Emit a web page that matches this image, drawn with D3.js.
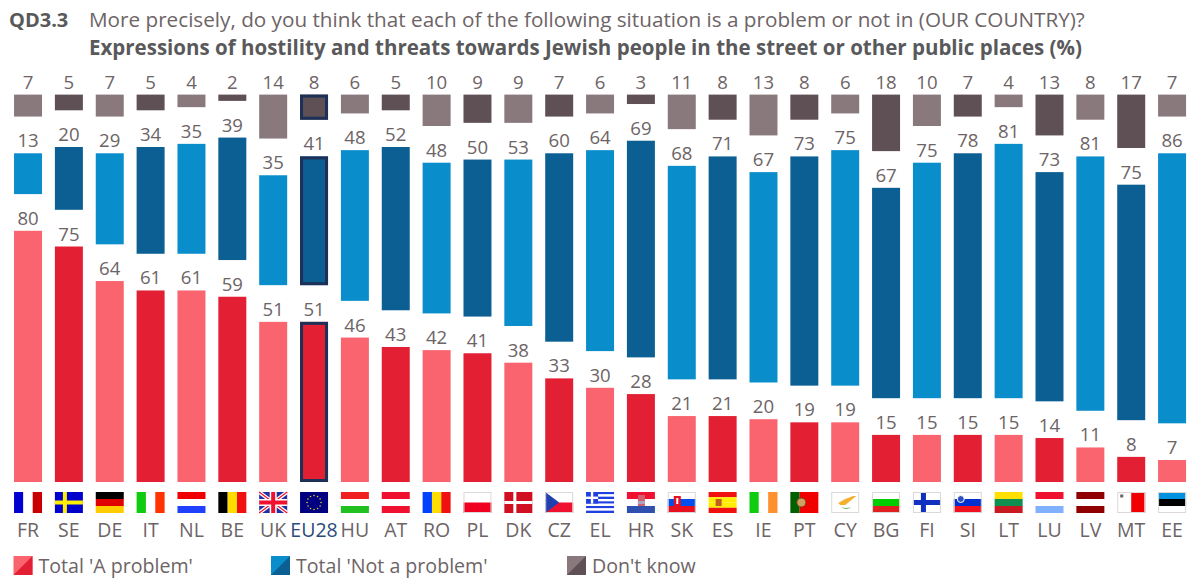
<!DOCTYPE html>
<html lang="en">
<head>
	<meta charset="UTF-8">
	<title>QD3.3</title>
	<style>
		* {padding:0; margin:0;}
		body {background:#fff; overflow:hidden;}
		svg {display:block;}
		text {font-family:"Open Sans", "Noto Sans", sans-serif; fill:#6d6466;}
		.num {font-size:18.6px; text-anchor:middle;}
		.axis text {font-size:19.5px; fill:#6d6466;}
		.axis .domain, .axis line {display:none;}
		.legendText {font-size:19.6px;}
	</style>
</head>
<body>
	<script src="https://d3js.org/d3.v7.min.js"></script>
	<svg id="chart" width="1189" height="579"></svg>

<script>
var countries = ["FR","SE","DE","IT","NL","BE","UK","EU28","HU","AT","RO","PL","DK","CZ","EL","HR","SK","ES","IE","PT","CY","BG","FI","SI","LT","LU","LV","MT","EE"];
var problem = [80,75,64,61,61,59,51,51,46,43,42,41,38,33,30,28,21,21,20,19,19,15,15,15,15,14,11,8,7];
var notProblem = [13,20,29,34,35,39,35,41,48,52,48,50,53,60,64,69,68,71,67,73,75,67,75,78,81,73,81,75,86];
var dontKnow = [7,5,7,5,4,2,14,8,6,5,10,9,9,7,6,3,11,8,13,8,6,18,10,7,4,13,8,17,7];
var legendLabels = ["Total 'A problem'", "Total 'Not a problem'", "Don't know"];

// light / dark colour per series, they alternate from bar to bar
var colors = {
	problem: ["#f9646f", "#e32033"],
	notProblem: ["#0a8ecb", "#0c5f92"],
	dontKnow: ["#8a797c", "#5f5055"]
};
var euBorder = "#1c3058";

var svg = d3.select("#chart");
var bottom = 482;
var gap = 36.7;	// white space between the three stacked groups
var flagW = 28, flagH = 21;

var rows = countries.map(function(c, i){
	return {country:c, index:i, problem:problem[i], notProblem:notProblem[i], dontKnow:dontKnow[i]};
});
var keys = ["problem", "notProblem", "dontKnow"];
var series = d3.stack().keys(keys)(rows);

var x = d3.scaleBand()
	.domain(countries)
	.range([7.6, 1192.5])
	.paddingInner(0.315)
	.paddingOuter(0.1575);
var y = d3.scaleLinear().domain([0, 100]).range([bottom, bottom - 314]);

// title
svg.append("text").attr("x", 9).attr("y", 27)
	.style("font-size", "20px").style("font-weight", 700).style("fill", "#59595b").text("QD3.3");
svg.append("text").attr("x", 89).attr("y", 27)
	.style("font-size", "20.7px").text("More precisely, do you think that each of the following situation is a problem or not in (OUR COUNTRY)?");
svg.append("text").attr("x", 89).attr("y", 55)
	.style("font-size", "20.5px").style("font-weight", 700).style("fill", "#59595b")
	.text("Expressions of hostility and threats towards Jewish people in the street or other public places (%)");

// bars
series.forEach(function(s, k){
	var g = svg.append("g").attr("transform", "translate(0," + (-k * gap) + ")");
	g.selectAll("rect")
		.data(s)
		.enter()
		.append("rect")
		.attr("x", function(d){ return x(d.data.country); })
		.attr("width", x.bandwidth())
		.attr("y", function(d){ return y(d[1]); })
		.attr("height", function(d){ return y(d[0]) - y(d[1]); })
		.attr("fill", function(d){ return colors[s.key][d.data.index % 2]; });
	// EU28 gets a dark frame, drawn inside the bar
	g.selectAll("rect.eu")
		.data(s.filter(function(d){ return d.data.country == "EU28"; }))
		.enter()
		.append("rect")
		.attr("class", "eu")
		.attr("x", function(d){ return x(d.data.country) + 1.5; })
		.attr("width", x.bandwidth() - 3)
		.attr("y", function(d){ return y(d[1]) + 1.5; })
		.attr("height", function(d){ return y(d[0]) - y(d[1]) - 3; })
		.attr("fill", "none")
		.attr("stroke", euBorder)
		.attr("stroke-width", 3);
	g.selectAll("text")
		.data(s)
		.enter()
		.append("text")
		.attr("class", "num")
		.attr("x", function(d){ return x(d.data.country) + x.bandwidth() / 2; })
		.attr("y", function(d){ return y(d[1]) - 6; })
		.text(function(d){ return d.data[s.key]; });
});

// country labels
var axis = svg.append("g")
	.attr("class", "axis")
	.attr("transform", "translate(0,516)")
	.call(d3.axisBottom(x).tickSize(0).tickPadding(7));
axis.selectAll("text")
	.filter(function(d){ return d == "EU28"; })
	.style("fill", "#2b4a78");

// flags
var blue = "#0000cc", white = "#fff";
var hStripes = {
	DE:["#000","#e00000","#ffcc00"], NL:["#f00000",white,"#2040ff"], HU:["#f02020",white,"#20c020"],
	AT:["#f01030",white,"#f01030"], PL:[white,"#f00020"], HR:["#f01030",white,"#3050b0"],
	SK:[white,"#0050f0","#e81020"], ES:["#f01010","#ffee00","#ffee00","#f01010"], BG:[white,"#00cc00","#e02020"],
	SI:[white,"#0030d0","#f01020"], LT:["#ffe000","#109050","#c81a20"], LU:["#f01030",white,"#80b0ff"],
	LV:["#900000",white,"#900000"], EE:["#0090e0","#000",white], CZ:[white,"#f01030"], EL:[]
};
var vStripes = {
	FR:["#0000d0",white,"#c80000"], IT:["#10cc10",white,"#ff3300"], BE:["#000","#ffdd00","#f01010"],
	RO:["#0040ff","#ffdd00","#f01010"], IE:["#10cc10",white,"#ff9030"], PT:["#006000","#f00000","#f00000"],
	MT:[white,"#f00000"]
};

function flag(g, code){
	function r(px, py, w, h, c){
		g.append("rect").attr("x", px).attr("y", py).attr("width", w).attr("height", h).attr("fill", c);
	}
	function shape(d, c){ g.append("path").attr("d", d).attr("fill", c); }
	r(0, 0, flagW, flagH, "#fff");
	if(hStripes[code]){
		var hs = hStripes[code];
		hs.forEach(function(c, i){ r(0, i * flagH / hs.length, flagW, flagH / hs.length, c); });
	}
	if(vStripes[code]){
		var vs = vStripes[code];
		vs.forEach(function(c, i){ r(i * flagW / vs.length, 0, flagW / vs.length, flagH, c); });
	}
	if(code == "SE"){ r(0, 0, flagW, flagH, blue); r(8, 0, 4, flagH, "#ffee00"); r(0, 8.5, flagW, 4, "#ffee00"); }
	if(code == "FI"){ r(8, 0, 5, flagH, "#1030c0"); r(0, 8, flagW, 5, "#1030c0"); }
	if(code == "DK"){ r(0, 0, flagW, flagH, "#d01020"); r(9, 0, 3, flagH, white); r(0, 9, flagW, 3, white); }
	if(code == "CZ"){ shape("M0,0L14,10.5L0,21Z", "#2040b0"); }
	if(code == "EL"){
		d3.range(9).forEach(function(i){ r(0, i * flagH / 9, flagW, flagH / 9, i % 2 ? white : "#2040e0"); });
		r(0, 0, 12, 11.6, "#2040e0"); r(4.8, 0, 2.4, 11.6, white); r(0, 4.6, 12, 2.4, white);
	}
	if(code == "UK"){
		r(0, 0, flagW, flagH, "#2030a0");
		shape("M0,0L3,0L28,18.5L28,21L25,21L0,2.5Z", white);
		shape("M28,0L25,0L0,18.5L0,21L3,21L28,2.5Z", white);
		g.append("path").attr("d", "M0,0L28,21M28,0L0,21").attr("stroke", "#f01030").attr("stroke-width", 1.2);
		r(10.5, 0, 7, flagH, white); r(0, 7, flagW, 7, white);
		r(12, 0, 4, flagH, "#f01030"); r(0, 8.5, flagW, 4, "#f01030");
	}
	if(code == "EU"){
		r(0, 0, flagW, flagH, "#000080");
		d3.range(12).forEach(function(i){
			var a = i * Math.PI / 6;
			g.append("circle").attr("cx", 14 + 7 * Math.cos(a)).attr("cy", 10.5 + 7 * Math.sin(a)).attr("r", 0.8).attr("fill", "#e8d020");
		});
	}
	if(code == "HR"){ r(11, 3, 7, 11, "#d06070"); r(11, 9, 7, 3, "#b0a0c0"); }
	if(code == "SK"){ r(6, 4, 7, 10, "#e81020"); r(8.5, 6, 2, 6, white); }
	if(code == "ES"){ r(7, 7, 6, 7, "#c06020"); }
	if(code == "PT"){ g.append("circle").attr("cx", 11).attr("cy", 10.5).attr("r", 4.5).attr("fill", "#d0a060").attr("stroke", "#804020"); }
	if(code == "CY"){
		shape("M7,11L14,7L22,4L25,4L19,9L14,13L9,13Z", "#f5b030");
		shape("M10,15Q15,19 20,15Q15,17 10,15Z", "#60b060");
	}
	if(code == "MT"){ r(3, 2.5, 3, 3, "#666"); }
	if(code == "SI"){ g.append("circle").attr("cx", 7).attr("cy", 7).attr("r", 3.5).attr("fill", "#3050c0").attr("stroke", white); }
	if(["PL","CY","MT","SK","SI","BG","CZ","EE","FI"].indexOf(code) >= 0){
		g.append("rect").attr("x", 0.5).attr("y", 0.5).attr("width", flagW - 1).attr("height", flagH - 1)
			.attr("fill", "none").attr("stroke", "#ddd8d6");
	}
}

countries.forEach(function(c){
	var g = svg.append("g").attr("transform", "translate(" + x(c) + ",492)");
	flag(g, c == "EU28" ? "EU" : c);
});

// legend
var legendX = [13.5, 271, 567];
var legendColors = [colors.problem, colors.notProblem, colors.dontKnow];
legendLabels.forEach(function(label, i){
	var g = svg.append("g").attr("transform", "translate(" + legendX[i] + ",556)");
	g.append("rect").attr("width", 19).attr("height", 19).attr("fill", legendColors[i][0]);
	g.append("path").attr("d", "M19,0L19,19L0,19Z").attr("fill", legendColors[i][1]);
	g.append("text").attr("class", "legendText").attr("x", 25).attr("y", 17).text(label);
});
</script>
</body>
</html>
